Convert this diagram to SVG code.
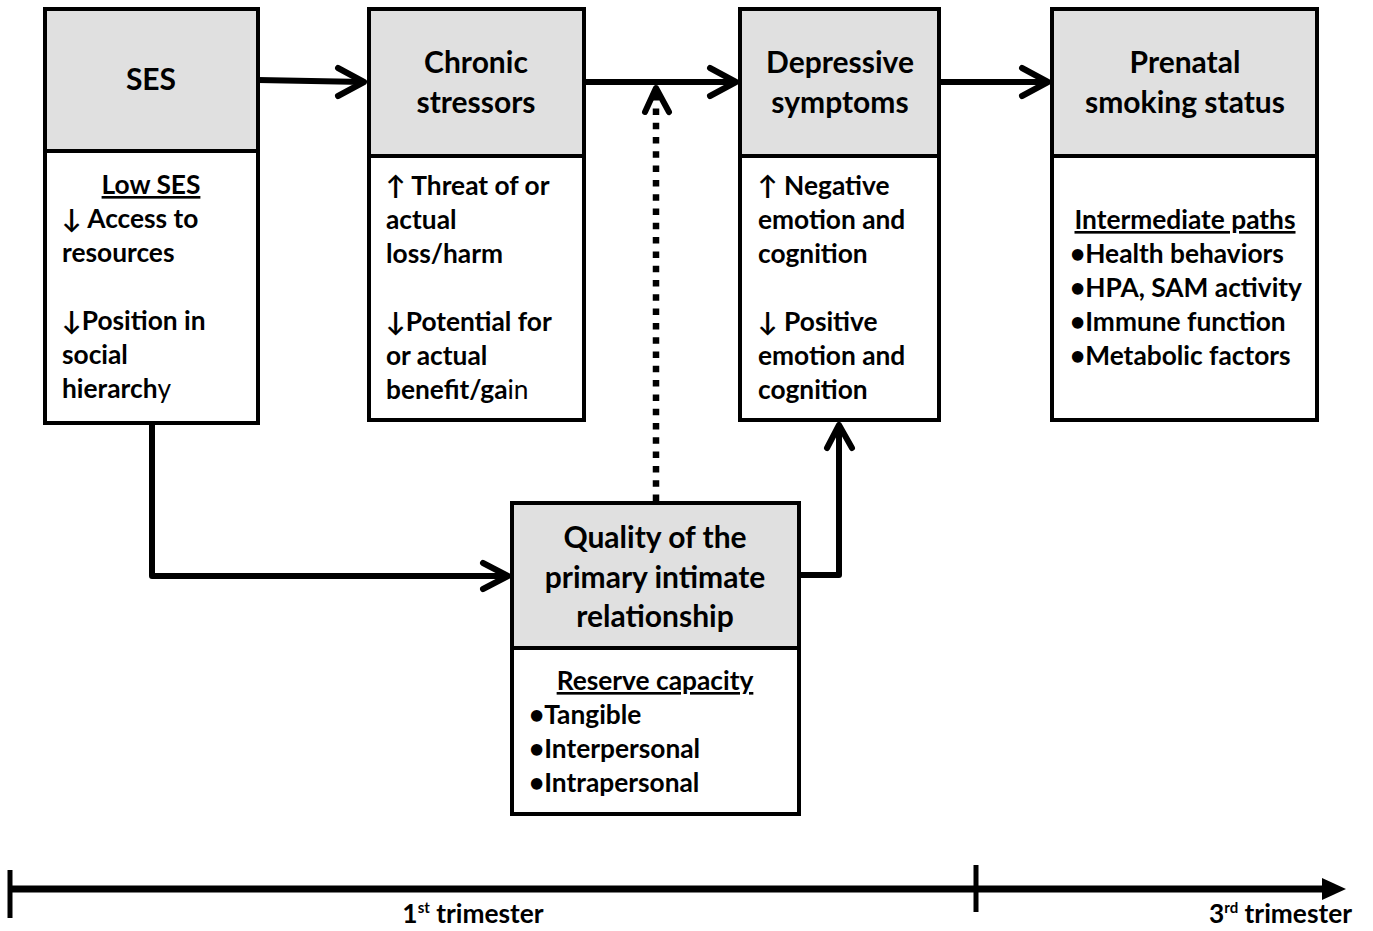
<svg xmlns="http://www.w3.org/2000/svg" width="1373" height="931" viewBox="0 0 1373 931">
<style>
.hd{fill:#e0e0e0;stroke:#000;stroke-width:4}
.bd{fill:#fff;stroke:#000;stroke-width:4}
text{font-family:Lato,"Open Sans","Liberation Sans",sans-serif;font-weight:700;fill:#000}
.h{font-size:30px;text-anchor:middle}
.b{font-size:26.3px}
.c{text-anchor:middle}
.u{text-decoration:underline}
.n{font-weight:400}
.ln{fill:none;stroke:#000;stroke-width:6;stroke-linejoin:round}
.ah{fill:none;stroke:#000;stroke-width:6;stroke-linecap:round;stroke-linejoin:round}
.dot{fill:none;stroke:#000;stroke-width:6.5;stroke-dasharray:6.5 7.8}
</style>
<g id="connectors">
<path class="ln" d="M258,80 L364,82"/>
<path class="ah" d="M338,68 L364,82 L338,96"/>
<path class="ln" d="M584,82 L736,82"/>
<path class="ah" d="M710,68 L736,82 L710,96"/>
<path class="ln" d="M939,82 L1048,82"/>
<path class="ah" d="M1022,68 L1048,82 L1022,96"/>
<path class="ln" d="M152,423 L152,576 L508,576"/>
<path class="ah" d="M483,563 L508,576 L483,589"/>
<path class="ln" d="M799,575 L839,575 L839,425"/>
<path class="ah" d="M827,448 L839,425 L852,448"/>
<path class="dot" d="M656,501 L656,95"/>
<path class="ah" d="M645,112 L656,88 L669,112"/>
</g>
<g id="ses">
<rect class="bd" x="45" y="9" width="213" height="414"/>
<rect class="hd" x="45" y="9" width="213" height="142"/>
<text class="h" x="151" y="90">SES</text>
<text class="b c u" x="151" y="194">Low SES</text>
<text class="b" x="62" y="228">↓ Access to</text>
<text class="b" x="62" y="262">resources</text>
<text class="b" x="62" y="330">↓Position in</text>
<text class="b" x="62" y="364">social</text>
<text class="b" x="62" y="398">hierarch<tspan class="n">y</tspan></text>
</g>
<g id="chronic">
<rect class="bd" x="369" y="9" width="215" height="411"/>
<rect class="hd" x="369" y="9" width="215" height="147"/>
<text class="h" x="476" y="73">Chronic</text>
<text class="h" x="476" y="113">stressors</text>
<text class="b" x="386" y="195">↑ Threat of or</text>
<text class="b" x="386" y="229">actual</text>
<text class="b" x="386" y="263">loss/harm</text>
<text class="b" x="386" y="331">↓Potential for</text>
<text class="b" x="386" y="365">or actual</text>
<text class="b" x="386" y="399">benefit/ga<tspan class="n">in</tspan></text>
</g>
<g id="depressive">
<rect class="bd" x="740" y="9" width="199" height="411"/>
<rect class="hd" x="740" y="9" width="199" height="147"/>
<text class="h" x="840" y="73">Depressive</text>
<text class="h" x="840" y="113">symptoms</text>
<text class="b" x="758" y="195">↑ Negative</text>
<text class="b" x="758" y="229">emotion and</text>
<text class="b" x="758" y="263">cognition</text>
<text class="b" x="758" y="331">↓ Positive</text>
<text class="b" x="758" y="365">emotion and</text>
<text class="b" x="758" y="399">cognition</text>
</g>
<g id="prenatal">
<rect class="bd" x="1052" y="9" width="265" height="411"/>
<rect class="hd" x="1052" y="9" width="265" height="147"/>
<text class="h" x="1185" y="73">Prenatal</text>
<text class="h" x="1185" y="113">smoking status</text>
<text class="b c u" x="1185" y="229">Intermediate paths</text>
<text class="b" x="1070" y="263">•Health behaviors</text>
<text class="b" x="1070" y="297">•HPA, SAM activity</text>
<text class="b" x="1070" y="331">•Immune function</text>
<text class="b" x="1070" y="365">•Metabolic factors</text>
</g>
<g id="quality">
<rect class="bd" x="512" y="503" width="287" height="311"/>
<rect class="hd" x="512" y="503" width="287" height="145"/>
<text class="h" x="655" y="548">Quality of the</text>
<text class="h" x="655" y="588">primary intimate</text>
<text class="h" x="655" y="627">relationship</text>
<text class="b c u" x="655" y="690">Reserve capacity</text>
<text class="b" x="529" y="724">•Tangible</text>
<text class="b" x="529" y="758">•Interpersonal</text>
<text class="b" x="529" y="792">•Intrapersonal</text>
</g>
<g id="timeline">
<path d="M10,889 L1325,889" stroke="#000" stroke-width="7" fill="none"/>
<path d="M1322,878 L1346,889 L1322,900 Z" fill="#000"/>
<path d="M10,870 L10,918" stroke="#000" stroke-width="5"/>
<path d="M976,865 L976,912" stroke="#000" stroke-width="5"/>
<text class="b c" x="473" y="923">1<tspan font-size="15" dy="-10">st</tspan><tspan dy="10"> trimester</tspan></text>
<text class="b" x="1352" y="923" text-anchor="end">3<tspan font-size="15" dy="-10">rd</tspan><tspan dy="10"> trimester</tspan></text>
</g>
</svg>
